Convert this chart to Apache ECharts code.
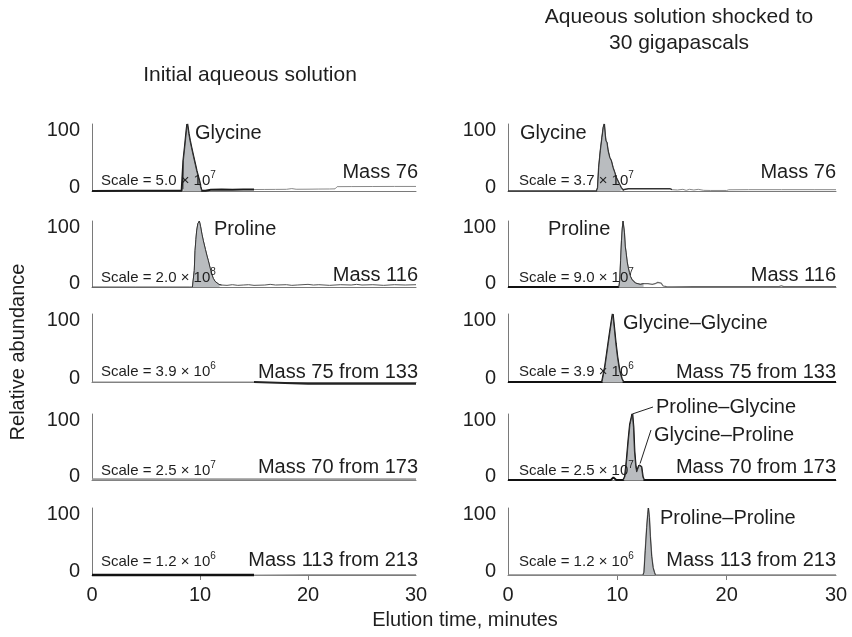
<!DOCTYPE html>
<html><head><meta charset="utf-8">
<script src="https://cdn.jsdelivr.net/npm/echarts@6/dist/echarts.min.js"></script>
<style>html,body{margin:0;padding:0;background:#fff}#c{width:852px;height:637px}</style>
</head><body><div id="c"></div>
<script>
// ---------- data ----------
const xTicks = [0, 10, 20, 30];
const yTicks = [0, 100];
const columnTitles = ['Initial aqueous solution', 'Aqueous solution shocked to\n30 gigapascals'];
const yAxisTitle = 'Relative abundance';
const xAxisTitle = 'Elution time, minutes';
const massLabels = ['Mass 76', 'Mass 116', 'Mass 75 from 133', 'Mass 70 from 173', 'Mass 113 from 213'];
const scaleMantissaInitial = ['5.0', '2.0', '3.9', '2.5', '1.2'];
const scaleExponentInitial = ['7', '8', '6', '7', '6'];
const scaleMantissaShocked = ['3.7', '9.0', '3.9', '2.5', '1.2'];
const scaleExponentShocked = ['7', '7', '6', '7', '6'];
const compoundInitial = ['Glycine', 'Proline', '', '', ''];
const compoundShocked = ['Glycine', 'Proline', 'Glycine\u2013Glycine', 'Proline\u2013Glycine', 'Proline\u2013Proline'];
const extraShockedRow4 = 'Glycine\u2013Proline';

// peak windows (minutes) where the chromatogram is shaded
const peakInitial = [[8.4, 10.2], [9.3, 12.0], null, null, null];
const peakShocked = [[8.1, 10.6], [10.15, 12.4], [8.6, 10.55], [10.55, 12.44], [12.35, 13.48]];

// chromatogram traces [minutes, relative abundance]
const initMass76 = [[0,0],[4,0.3],[8.3,0.3],[8.42,3],[8.46,45],[8.6,66],[8.75,90],[8.82,100],[8.95,86],[9.07,75],[9.2,65],[9.38,52],[9.55,40],[9.69,30],[9.82,22],[9.94,15],[10.05,6],[10.15,0.5],[10.3,-2],[10.5,0.5],[11,2],[12,2.2],[13,2],[14,2.1],[15,2.2],[16,2.3],[17,2.4],[18,2.5],[18.5,3.6],[18.9,2.6],[20,2.7],[21,2.9],[22,3],[22.5,3.2],[22.7,6.5],[24,6.6],[26,6.7],[28,6.8],[30,6.8]];
const initMass116 = [[0,0],[4,0],[9,0],[9.3,0],[9.4,3],[9.47,25],[9.54,55],[9.62,72],[9.69,85],[9.8,96],[9.94,100],[10.05,92],[10.18,80],[10.31,70],[10.5,57],[10.65,47],[10.77,40],[10.95,28],[11.1,19],[11.23,13],[11.4,8.5],[11.54,6],[11.75,4],[12,3],[12.5,2.5],[13,3.5],[13.5,2.5],[14,3],[14.5,3.5],[15,2.5],[16,3],[16.5,4],[17,3],[18,3.5],[18.5,2.5],[19,3],[20,4],[20.5,3],[21,3.5],[22,2.5],[23,3.5],[24,3],[24.5,4],[25,3],[26,3.5],[27,2.5],[28,3.5],[29,3],[30,3.5]];
const initMass75 = [[0,0],[5,0],[10,0],[15,0],[15.05,-2.5],[20,-2.5],[25,-2.5],[30,-2.5]];
const initMass70 = [[0,1],[10,1],[15,1],[20,1],[30,1]];
const initMass113 = [[0,0],[10,0],[15,0],[15.05,0.6],[20,0.6],[30,0.6]];

const shockMass76 = [[0,0],[4,0],[8.1,0],[8.2,5],[8.3,35],[8.45,60],[8.6,80],[8.72,95],[8.81,100],[8.88,85],[8.95,75],[9.05,72],[9.15,60],[9.3,50],[9.45,45],[9.6,35],[9.75,28],[9.9,20],[10.05,15],[10.2,10],[10.35,5],[10.5,2],[10.6,0.5],[11,3.5],[12,3.5],[13,3.3],[14,3.5],[14.8,3.5],[15,2],[15.5,1.5],[16,2.5],[16.3,1],[16.6,2.5],[17,1.5],[17.4,2.5],[17.9,1],[18.5,0.8],[20,0.8],[20.2,1.8],[22,2],[25,2],[28,2],[30,2]];
const shockMass116 = [[0,0],[5,0],[10,0],[10.15,0.5],[10.22,10],[10.3,40],[10.38,70],[10.45,88],[10.52,100],[10.58,97],[10.65,82],[10.72,62],[10.8,52],[10.9,38],[11,29],[11.1,22],[11.2,16],[11.35,11],[11.5,8],[11.65,6],[11.8,5],[12.1,4],[12.4,5],[12.8,5],[13.2,4],[13.45,5],[13.7,7],[14,6],[14.2,1.5],[14.5,0.5],[15,0.4],[17,0.5],[20,0.6],[24.8,0.6],[25,2],[25.2,0.6],[28,0.6],[30,0.6]];
const shockMass75 = [[0,0],[8.6,0],[8.66,1],[8.72,2],[8.87,22],[9.03,40],[9.18,57],[9.33,74],[9.49,91],[9.58,100],[9.7,81],[9.85,57],[10,37],[10.19,17],[10.4,5],[10.55,0],[15,0],[20,0],[30,0]];
const shockMass70 = [[0,0],[9.4,0],[9.55,2],[9.64,4],[9.75,2],[9.9,0],[10.55,0],[10.61,1],[10.7,5],[10.86,30],[11.01,59],[11.16,84],[11.32,96],[11.37,100],[11.47,80],[11.56,44],[11.68,20],[11.77,12],[11.86,12],[11.99,22],[12.08,25],[12.2,20],[12.32,5],[12.44,0],[15,0],[20,0],[30,0]];
const shockMass113 = [[0,0],[12.35,0],[12.44,4],[12.56,37],[12.69,71],[12.78,90],[12.84,100],[12.93,86],[13.02,57],[13.14,28],[13.27,11],[13.39,4],[13.48,0],[20,0],[30,0]];

const tracesInitial = [initMass76, initMass116, initMass75, initMass70, initMass113];
const tracesShocked = [shockMass76, shockMass116, shockMass75, shockMass70, shockMass113];

// ---------- layout / style ----------
const FONT = "'Liberation Sans', Arial, Helvetica, sans-serif";
const TXT = '#1e1e1e';
const AXIS = '#7a7a7a';
const FILL = '#b9bcbf';
const rowTop = [124, 221, 314, 414, 508];
const rowH = [67, 66, 68, 66, 67];
const colLeft = [92, 508];
const colW = [324, 328];
// trace styles per panel: split minute, early colour/width, late colour/width
const styleInitial = [
  {split:15, c1:'#1a1a1a', w1:2, c2:'#8a8a8a', w2:1},
  {split:30, c1:'#555', w1:1, c2:'#555', w2:1},
  {split:15, c1:'#8a8a8a', w1:1, c2:'#222', w2:2},
  {split:30, c1:'#9a9a9a', w1:2, c2:'#9a9a9a', w2:2},
  {split:15, c1:'#111', w1:2.5, c2:'#999', w2:1}
];
const styleShocked = [
  {split:15, c1:'#333', w1:1.5, c2:'#8a8a8a', w2:1},
  {split:10.15, c1:'#111', w1:2, c2:'#666', w2:1.2},
  {split:30, c1:'#111', w1:2, c2:'#111', w2:2},
  {split:30, c1:'#111', w1:2, c2:'#111', w2:2},
  {split:30, c1:'#888', w1:1.5, c2:'#888', w2:1.5}
];

const grid = [], xAxis = [], yAxis = [], series = [];
let gi = 0;
for (let r = 0; r < 5; r++) {
  for (let c = 0; c < 2; c++) {
    grid.push({left: colLeft[c], top: rowTop[r], width: colW[c], height: rowH[r]});
    const bottom = r === 4;
    xAxis.push({
      type: 'value', gridIndex: gi, min: xTicks[0], max: xTicks[xTicks.length - 1], interval: 10,
      axisLine: {show: true, lineStyle: {color: AXIS, width: 1}},
      axisTick: {show: bottom, length: 5, customValues: xTicks.slice(1, -1), lineStyle: {color: AXIS}},
      axisLabel: {show: bottom, customValues: xTicks, margin: 10, fontSize: 20, color: TXT, fontFamily: FONT},
      splitLine: {show: false}
    });
    yAxis.push({
      type: 'value', gridIndex: gi, min: 0, max: 100, interval: 100,
      axisLine: {show: true, lineStyle: {color: AXIS, width: 1}},
      axisTick: {show: false}, splitLine: {show: false},
      axisLabel: {
        margin: 12, color: TXT, fontFamily: FONT, fontSize: 20,
        formatter: v => v === yTicks[1] ? '{hi|' + v + '}' : (v === yTicks[0] ? '{lo|' + v + '}' : ''),
        rich: {hi: {fontSize: 20, fontFamily: FONT, color: TXT, padding: [12, 0, 0, 0]},
               lo: {fontSize: 20, fontFamily: FONT, color: TXT, padding: [0, 0, 8, 0]}}
      }
    });
    const data = (c === 0 ? tracesInitial : tracesShocked)[r];
    const st = (c === 0 ? styleInitial : styleShocked)[r];
    const early = data.filter(p => p[0] <= st.split);
    const late = data.filter(p => p[0] >= st.split);
    series.push({type: 'line', xAxisIndex: gi, yAxisIndex: gi, data: early, showSymbol: false, clip: false,
      lineStyle: {color: st.c1, width: st.w1}, silent: true, z: 3});
    if (late.length > 1) series.push({type: 'line', xAxisIndex: gi, yAxisIndex: gi, data: late, showSymbol: false, clip: false,
      lineStyle: {color: st.c2, width: st.w2}, silent: true, z: 3});
    const pk = (c === 0 ? peakInitial : peakShocked)[r];
    if (pk) {
      series.push({type: 'line', xAxisIndex: gi, yAxisIndex: gi,
        data: data.filter(p => p[0] >= pk[0] && p[0] <= pk[1]), showSymbol: false, clip: false,
        lineStyle: {color: '#2a2a2a', width: 0.9}, areaStyle: {color: FILL, opacity: 1}, silent: true, z: 4});
    }
    gi++;
  }
}

// ---------- texts ----------
const graphic = [];
function txt(x, y, text, opt) {
  graphic.push(Object.assign({type: 'text', x: x, y: y, z: 10,
    style: Object.assign({text: text, fill: TXT, font: '20px ' + FONT, align: 'left', verticalAlign: 'middle'}, opt || {})}));
}
txt(250, 75, columnTitles[0], {align: 'center', font: '21px ' + FONT});
txt(679, 30, columnTitles[1], {align: 'center', font: '21px ' + FONT, lineHeight: 26});
graphic.push({type: 'text', x: 18, y: 352, rotation: Math.PI / 2, z: 10,
  style: {text: yAxisTitle, fill: TXT, font: '20px ' + FONT, align: 'center', verticalAlign: 'middle'}});
txt(465, 620, xAxisTitle, {align: 'center', font: '20px ' + FONT});

const massY = [172, 275, 372, 467, 560];
const scaleY = [179, 276, 370, 469, 560];
const colRight = [418, 836];
const scaleX = [101, 519];
for (let r = 0; r < 5; r++) {
  for (let c = 0; c < 2; c++) {
    txt(colRight[c], massY[r], massLabels[r], {align: 'right'});
    const m = (c === 0 ? scaleMantissaInitial : scaleMantissaShocked)[r];
    const e = (c === 0 ? scaleExponentInitial : scaleExponentShocked)[r];
    graphic.push({type: 'text', x: scaleX[c], y: scaleY[r], z: 10, style: {
      text: '{n|Scale = ' + m + ' \u00d7 10}{s|' + e + '}', align: 'left', verticalAlign: 'middle',
      rich: {n: {fontSize: 15, fontFamily: FONT, fill: TXT, color: TXT, lineHeight: 18, verticalAlign: 'bottom'},
             s: {fontSize: 10, fontFamily: FONT, fill: TXT, color: TXT, lineHeight: 18, verticalAlign: 'top'}}}});
  }
}
const compoundPos = {
  L0: [195, 133], R0: [520, 133], L1: [214, 229], R1: [548, 229], R2: [623, 323], R3: [656, 407], R4: [660, 518]
};
for (let r = 0; r < 5; r++) {
  if (compoundInitial[r]) txt(compoundPos['L' + r][0], compoundPos['L' + r][1], compoundInitial[r]);
  if (compoundShocked[r]) txt(compoundPos['R' + r][0], compoundPos['R' + r][1], compoundShocked[r]);
}
txt(654, 435, extraShockedRow4);

const chart = echarts.init(document.getElementById('c'), null, {renderer: 'canvas'});
chart.setOption({animation: false, backgroundColor: '#fff', grid, xAxis, yAxis, series, graphic});

// leader lines from peaks (data space) to their labels
const pg = chart.convertToPixel({gridIndex: 7}, [11.37, 100]);
const gp = chart.convertToPixel({gridIndex: 7}, [12.08, 25]);
chart.setOption({graphic: graphic.concat([
  {type: 'line', z: 10, shape: {x1: pg[0], y1: pg[1], x2: 653, y2: 407}, style: {stroke: '#222', lineWidth: 1}},
  {type: 'line', z: 10, shape: {x1: gp[0], y1: gp[1], x2: 651, y2: 430}, style: {stroke: '#222', lineWidth: 1}}
])});
</script></body></html>
